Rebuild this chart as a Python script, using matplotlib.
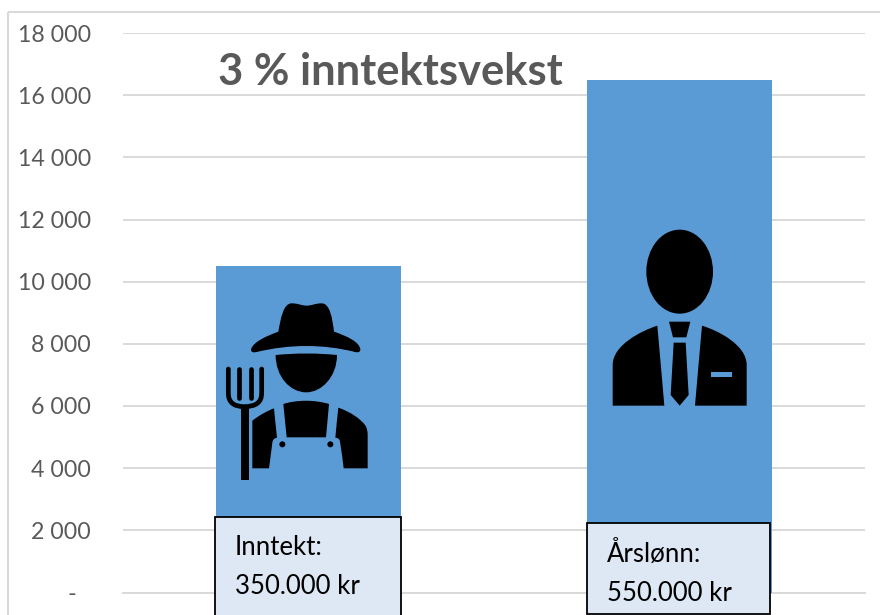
#!/usr/bin/env python
# 3 % inntektsvekst: bars with icons and text boxes on top

import matplotlib
matplotlib.use('Agg')
import matplotlib.pyplot as plt
from matplotlib.patches import Rectangle, Polygon, Ellipse, PathPatch, Circle
from matplotlib.path import Path

plt.rcParams['font.family'] = ['Lato', 'DejaVu Sans']

categories = ['Inntekt', 'Årslønn']
growth = [10500, 16500]
yticks = [0, 2000, 4000, 6000, 8000, 10000, 12000, 14000, 16000, 18000]
yticklabels = ['-', '2 000', '4 000', '6 000', '8 000', '10 000', '12 000',
               '14 000', '16 000', '18 000']
title = '3 % inntektsvekst'
box_lines = [['Inntekt:', '350.000 kr'], ['Årslønn:', '550.000 kr']]

W, H = 880, 615
GREY = '#595959'
BLUE = '#5B9BD5'
GRID = '#D9D9D9'
BOXFILL = '#DEE8F4'

fig = plt.figure(figsize=(W / 100, H / 100), dpi=100, facecolor='white')

# chart area, positions are in pixels of the target
ax = fig.add_axes([123 / W, 1 - 592.5 / H, 742 / W, 559.5 / H])
ax.bar(range(len(categories)), growth, width=0.5, color=BLUE, zorder=3)
ax.set_xlim(-0.5, 1.5)
ax.set_ylim(0, 18000)
ax.set_yticks(yticks)
ax.set_yticklabels(yticklabels, fontsize=16.7, color=GREY)
ax.tick_params(axis='y', length=0, pad=23)
ax.set_xticks([])
ax.yaxis.grid(True, color=GRID, linewidth=1.4, zorder=0)
ax.yaxis.get_ticklabels()[0].set_x(-0.02)
for s in ax.spines.values():
    s.set_visible(False)
ax.spines['bottom'].set_visible(True)
ax.spines['bottom'].set_color(GRID)
ax.spines['bottom'].set_linewidth(1.4)

# overlay with pixel coordinates for border, icons and text boxes
ov = fig.add_axes([0, 0, 1, 1], facecolor='none')
ov.set_xlim(0, W)
ov.set_ylim(H, 0)
ov.axis('off')

ov.add_patch(Rectangle((8, 12), 900, 700, fill=False, ec=GRID, lw=1.5))
ov.text(218, 85, title, fontsize=31.3, fontweight='bold', color=GREY, va='baseline')


def farmer(x, y):
    return (200 + x / 3, 260 + y / 3)


def man(x, y):
    return (570 + x / 3, 210 + y / 3)


def curve(conv, pts, fc='black'):
    # pts: start point, then cubic triples
    verts = [conv(*p) for p in pts]
    codes = [Path.MOVETO] + [Path.CURVE4] * (len(pts) - 1)
    verts.append(verts[0])
    codes.append(Path.CLOSEPOLY)
    ov.add_patch(PathPatch(Path(verts, codes), fc=fc, ec='none'))


def poly(conv, pts, fc='black'):
    ov.add_patch(Polygon([conv(*p) for p in pts], closed=True, fc=fc, ec='none'))


# farmer: hat
curve(farmer, [(153, 268), (160, 245), (200, 228), (235, 215),
               (242, 175), (250, 130), (275, 130),
               (295, 130), (305, 137), (320, 137),
               (335, 137), (345, 130), (365, 130),
               (390, 130), (397, 175), (402, 215),
               (440, 228), (478, 245), (481, 268),
               (481, 277), (475, 278), (465, 276),
               (370, 252), (270, 252), (170, 276),
               (160, 278), (153, 278), (153, 268)])
# face
curve(farmer, [(227, 285), (290, 279), (350, 279), (411, 285),
               (411, 350), (365, 397), (319, 397),
               (270, 397), (227, 350), (227, 285)])
# body
curve(farmer, [(157, 482), (175, 468), (200, 453), (222, 445),
               (225, 475), (228, 505), (231, 533),
               (222, 535), (218, 540), (217, 548),
               (214, 575), (210, 600), (207, 625),
               (190, 625), (175, 625), (157, 625),
               (157, 580), (157, 530), (157, 482)])
curve(farmer, [(415, 443), (450, 455), (480, 475), (495, 495),
               (502, 505), (503, 515), (503, 530),
               (503, 560), (503, 595), (503, 625),
               (480, 625), (455, 625), (431, 625),
               (428, 600), (424, 570), (420, 545),
               (419, 538), (415, 534), (406, 533),
               (409, 500), (412, 470), (415, 443)])
curve(farmer, [(250, 432), (290, 419), (345, 419), (387, 432),
               (384, 465), (381, 500), (378, 532),
               (340, 532), (300, 532), (260, 532),
               (257, 500), (253, 465), (250, 432)])
for bx in (247, 391):
    ov.add_patch(Circle(farmer(bx, 553), 3, fc='black', ec='none'))

# pitchfork
fork_lw = 3.4
for tx, bottom in ((118, 415), (152, 415)):
    xs, ys = zip(farmer(tx, 327), farmer(tx, bottom))
    ov.plot(xs, ys, color='black', lw=fork_lw, solid_capstyle='round')
fork = Path([farmer(85, 327), farmer(85, 400), farmer(85, 440), farmer(133, 440),
             farmer(185, 440), farmer(185, 400), farmer(185, 327)],
            [Path.MOVETO, Path.LINETO, Path.CURVE3, Path.CURVE3,
             Path.CURVE3, Path.CURVE3, Path.LINETO])
ov.add_patch(PathPatch(fork, fc='none', ec='black', lw=fork_lw, capstyle='round'))
poly(farmer, [(122, 440), (146, 440), (146, 661), (122, 661)])

# man
cx, cy = man(329, 185)
ov.add_patch(Ellipse((cx, cy), 200 / 3, 252 / 3, fc='black', ec='none'))
curve(man, [(262, 347), (215, 362), (128, 405), (128, 465),
            (128, 505), (128, 545), (128, 587),
            (180, 587), (230, 587), (283, 587),
            (276, 505), (269, 425), (262, 347)])
curve(man, [(396, 347), (445, 362), (530, 405), (530, 465),
            (530, 505), (530, 545), (530, 587),
            (478, 587), (426, 587), (375, 587),
            (382, 505), (389, 425), (396, 347)])
poly(man, [(297, 335), (361, 335), (349, 382), (309, 382)])
poly(man, [(311, 398), (347, 398), (356, 555), (329, 587), (302, 555)])
poly(man, [(423, 485), (486, 485), (486, 500), (423, 500)], fc=BLUE)

# text boxes
boxes = [(214.7, 516.5, 186, 120), (586.5, 523, 183.5, 91)]
text_pos = [(235, 555, 594), (607, 562, 601)]
for (bx, by, bw, bh), (tx, y1, y2), lines in zip(boxes, text_pos, box_lines):
    ov.add_patch(Rectangle((bx, by), bw, bh, fc=BOXFILL, ec='black', lw=1.3))
    ov.text(tx, y1, lines[0], fontsize=18.5, color='black', va='baseline')
    ov.text(tx, y2, lines[1], fontsize=18.5, color='black', va='baseline')

fig.savefig('out.png', dpi=100)
